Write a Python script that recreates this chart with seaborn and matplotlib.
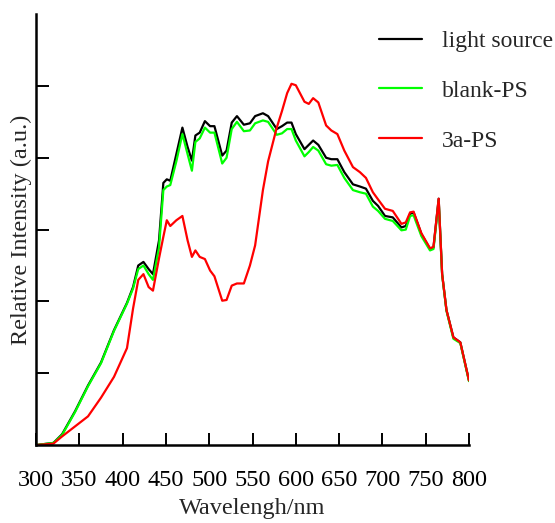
import matplotlib
matplotlib.use("Agg")
import matplotlib.pyplot as plt
import numpy as np
import pandas as pd
import seaborn as sns

# wavelength grid (nm)
wavelength = [300, 320, 330, 345, 360, 375, 390, 405, 412, 418, 424, 430, 435, 442,
              447, 451, 455, 462, 469, 475, 480, 484, 489, 495, 501, 506, 515, 520,
              526, 532, 540, 547, 553, 562, 568, 578, 584, 590, 595, 600, 610, 615,
              620, 626, 635, 641, 648, 656, 666, 674, 681, 689, 695, 703, 712, 722,
              727, 732, 736, 745, 755, 759, 765, 769, 774, 782, 790, 800]

light_source = [0.0, 0.03, 0.15, 0.47, 0.83, 1.15, 1.60, 1.98, 2.20, 2.50, 2.55, 2.45, 2.38, 2.85,
                3.65, 3.70, 3.68, 4.05, 4.42, 4.15, 3.96, 4.31, 4.35, 4.51, 4.44, 4.44, 4.03, 4.10,
                4.49, 4.58, 4.46, 4.48, 4.58, 4.62, 4.58, 4.40, 4.44, 4.49, 4.49, 4.33, 4.12, 4.18,
                4.24, 4.18, 4.00, 3.98, 3.98, 3.80, 3.63, 3.60, 3.57, 3.40, 3.33, 3.19, 3.17, 3.03,
                3.05, 3.22, 3.24, 2.94, 2.73, 2.75, 3.43, 2.38, 1.88, 1.50, 1.43, 0.90]

blank_ps = [0.0, 0.03, 0.14, 0.46, 0.82, 1.14, 1.59, 1.97, 2.18, 2.45, 2.50, 2.38, 2.30, 2.75,
            3.55, 3.60, 3.62, 3.95, 4.33, 4.05, 3.82, 4.22, 4.27, 4.42, 4.35, 4.35, 3.92, 4.00,
            4.40, 4.50, 4.37, 4.38, 4.48, 4.52, 4.50, 4.32, 4.34, 4.40, 4.40, 4.24, 4.02, 4.08,
            4.15, 4.10, 3.91, 3.89, 3.90, 3.72, 3.55, 3.52, 3.50, 3.32, 3.26, 3.15, 3.12, 2.99,
            3.00, 3.19, 3.20, 2.91, 2.71, 2.73, 3.40, 2.37, 1.87, 1.48, 1.42, 0.89]

ps_3a = [0.0, 0.02, 0.12, 0.26, 0.40, 0.66, 0.95, 1.35, 1.90, 2.30, 2.38, 2.20, 2.15, 2.60,
         2.90, 3.13, 3.05, 3.13, 3.19, 2.85, 2.62, 2.71, 2.62, 2.59, 2.43, 2.35, 2.01, 2.02,
         2.22, 2.25, 2.25, 2.50, 2.78, 3.55, 3.95, 4.42, 4.65, 4.90, 5.03, 5.01, 4.78, 4.75,
         4.83, 4.77, 4.45, 4.38, 4.33, 4.10, 3.87, 3.80, 3.72, 3.52, 3.42, 3.29, 3.26, 3.08,
         3.10, 3.24, 3.25, 2.95, 2.74, 2.76, 3.43, 2.38, 1.88, 1.50, 1.43, 0.90]

series_names = ["light source", "blank-PS", "3a-PS"]
colors = ["#000000", "#00ff00", "#ff0000"]
x_ticks = [300, 350, 400, 450, 500, 550, 600, 650, 700, 750, 800]

df = pd.concat([
    pd.DataFrame({"wl": wavelength, "val": light_source, "series": series_names[0]}),
    pd.DataFrame({"wl": wavelength, "val": blank_ps, "series": series_names[1]}),
    pd.DataFrame({"wl": wavelength, "val": ps_3a, "series": series_names[2]}),
])

sns.set_style("ticks")
plt.rcParams["font.family"] = ["Liberation Serif", "DejaVu Serif"]

fig = plt.figure(figsize=(5.55, 5.23), dpi=100)
ax = fig.add_axes([0.065, 0.149, 0.780, 0.824])

sns.lineplot(data=df, x="wl", y="val", hue="series", hue_order=series_names,
             palette=dict(zip(series_names, colors)), linewidth=1.6, ax=ax,
             sort=False, estimator=None)

ax.set_xlim(300, 800)
ax.set_ylim(0, 6)
ax.set_xticks(x_ticks)
ax.set_yticks([1, 2, 3, 4, 5])
ax.tick_params(direction="in", length=9, width=1.4, labelsize=17.5, pad=18,
               colors="black")
ax.tick_params(axis="y", labelleft=False)
sns.despine(ax=ax)
for s in ["left", "bottom"]:
    ax.spines[s].set_linewidth(1.8)
    ax.spines[s].set_color("black")

ax.set_xlabel("Wavelengh/nm", fontsize=17.5, labelpad=5)
ax.set_ylabel("Relative Intensity (a.u.)", fontsize=17.5, labelpad=3)

ax.legend(loc="upper left", bbox_to_anchor=(0.683, 0.942), bbox_transform=fig.transFigure,
          frameon=False, fontsize=17, handlelength=1.8, handletextpad=0.85,
          labelspacing=1.2, borderpad=0, borderaxespad=0)

fig.savefig("out.png", dpi=100)
